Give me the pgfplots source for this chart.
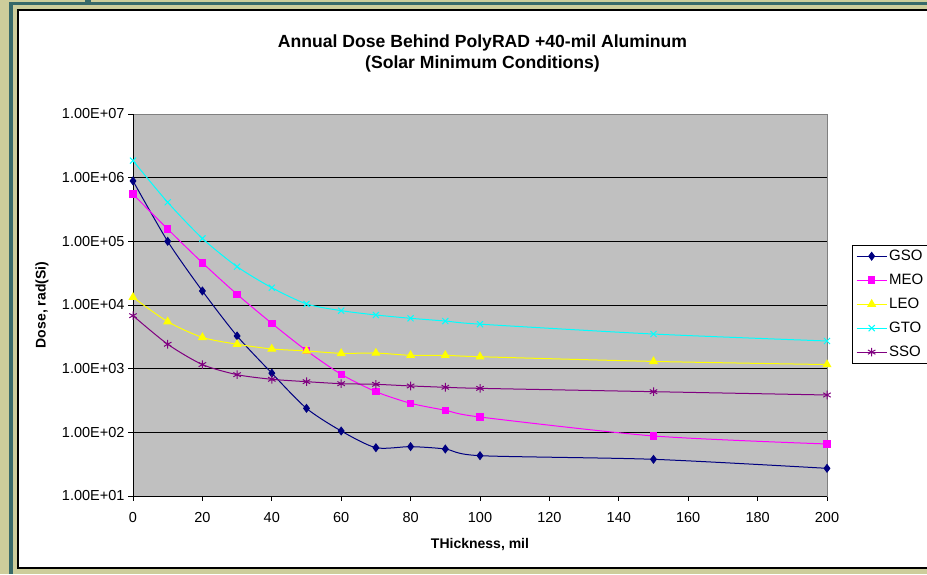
\documentclass[border=0pt]{standalone}
\usepackage{fontspec}
\setmainfont{Liberation Sans}
\usepackage{pgfplots}
\pgfplotsset{compat=1.18}
\definecolor{khaki}{RGB}{205,205,155}
\definecolor{teal2}{RGB}{55,105,105}
\definecolor{plotgray}{RGB}{192,192,192}
\definecolor{bordergray}{RGB}{128,128,128}
\definecolor{gso}{RGB}{0,0,128}
\definecolor{meo}{RGB}{255,0,255}
\definecolor{leo}{RGB}{255,255,0}
\definecolor{gto}{RGB}{0,255,255}
\definecolor{sso}{RGB}{128,0,128}
\begin{document}
\begin{tikzpicture}[x=1pt,y=1pt]
\useasboundingbox (0,0) rectangle (927,574);
\fill[khaki] (0,0) rectangle (927,574);
\fill[teal2] (9,0) rectangle (13.3,572);
\fill[teal2] (9,568.7) rectangle (927,572);
\fill[teal2] (85,572) rectangle (90.5,574);
\draw[black, line width=1.3pt, fill=white] (18,6) rectangle (940,564);
\node[font=\fontsize{17.6}{21}\selectfont\bfseries, align=center] at (482.5,521)
  {Annual Dose Behind PolyRAD +40-mil Aluminum\\(Solar Minimum Conditions)};
\begin{axis}[
  at={(133pt,78pt)}, anchor=south west,
  scale only axis, width=694pt, height=382pt,
  ymode=log, log basis y=10,
  xmin=0, xmax=200, ymin=10, ymax=1e7,
  xtick={0,20,...,200},
  ytick={10,100,1000,10000,100000,1000000,10000000},
  yticklabels={1.00E+01,1.00E+02,1.00E+03,1.00E+04,1.00E+05,1.00E+06,1.00E+07},
  minor tick num=0, yminorticks=false,
  tick align=outside, major tick length=5pt,
  tick style={black, line width=0.8pt},
  xtick pos=bottom, ytick pos=left,
  /pgf/number format/assume math mode=true,
  ticklabel style={font=\fontsize{14.5}{16}\selectfont},
  xticklabel style={yshift=-8pt},
  ymajorgrids, grid style={black, line width=0.8pt},
  axis background/.style={fill=plotgray},
  axis line style={bordergray, line width=0.8pt},
  xlabel={THickness, mil},
  ylabel={Dose, rad(Si)},
  label style={font=\fontsize{14}{16}\selectfont\bfseries},
  xlabel style={at={(axis description cs:0.5,-0.128)}, anchor=center},
  ylabel style={at={(axis description cs:-0.131,0.5)}, anchor=center},
  legend style={at={(axis description cs:1.036,0.657)}, anchor=north west,
    draw=black, fill=white, font=\fontsize{15}{17}\selectfont,
    row sep=8pt, inner xsep=4pt, inner ysep=3pt},
  legend cell align=left,
  legend image code/.code={\draw[mark repeat=2,mark phase=2] plot coordinates {(0pt,0pt) (15pt,0pt) (30pt,0pt)};},
  every axis plot/.append style={line width=1pt, smooth, tension=0.45},
]
\draw[black, line width=0.9pt] (axis cs:0,10) -- (axis cs:200,10);
\draw[black, line width=0.9pt] (axis cs:0,10) -- (axis cs:0,1e7);
\addplot[gso, mark=diamond*, mark size=3.8pt, mark options={solid, fill=gso}] coordinates {
 (0,890000) (10,100000) (20,16600) (30,3260) (40,850) (50,238) (60,105) (70,57.4) (80,59.6) (90,54.7) (100,43) (150,37.7) (200,27.2)};
\addlegendentry{GSO}
\addplot[meo, mark=square*, mark size=3.2pt, mark options={solid, fill=meo}] coordinates {
 (0,550000) (10,156000) (20,46000) (30,14700) (40,5150) (50,1920) (60,815) (70,435) (80,286) (90,222) (100,174) (150,87.7) (200,65.6)};
\addlegendentry{MEO}
\addplot[leo, mark=triangle*, mark size=4.3pt, mark options={solid, fill=leo}] coordinates {
 (0,13200) (10,5470) (20,3100) (30,2420) (40,2040) (50,1900) (60,1740) (70,1760) (80,1620) (90,1620) (100,1540) (150,1300) (200,1160)};
\addlegendentry{LEO}
\addplot[gto, mark=x, mark size=4.3pt, mark options={solid, line width=1pt}] coordinates {
 (0,1850000) (10,410000) (20,111000) (30,40000) (40,18700) (50,10400) (60,8150) (70,6970) (80,6180) (90,5600) (100,5000) (150,3500) (200,2720)};
\addlegendentry{GTO}
\addplot[sso, mark=asterisk, mark size=4.3pt, mark options={solid, line width=1pt}] coordinates {
 (0,6800) (10,2420) (20,1160) (30,805) (40,681) (50,625) (60,581) (70,568) (80,535) (90,510) (100,491) (150,435) (200,386)};
\addlegendentry{SSO}
\end{axis}
\end{tikzpicture}
\end{document}
